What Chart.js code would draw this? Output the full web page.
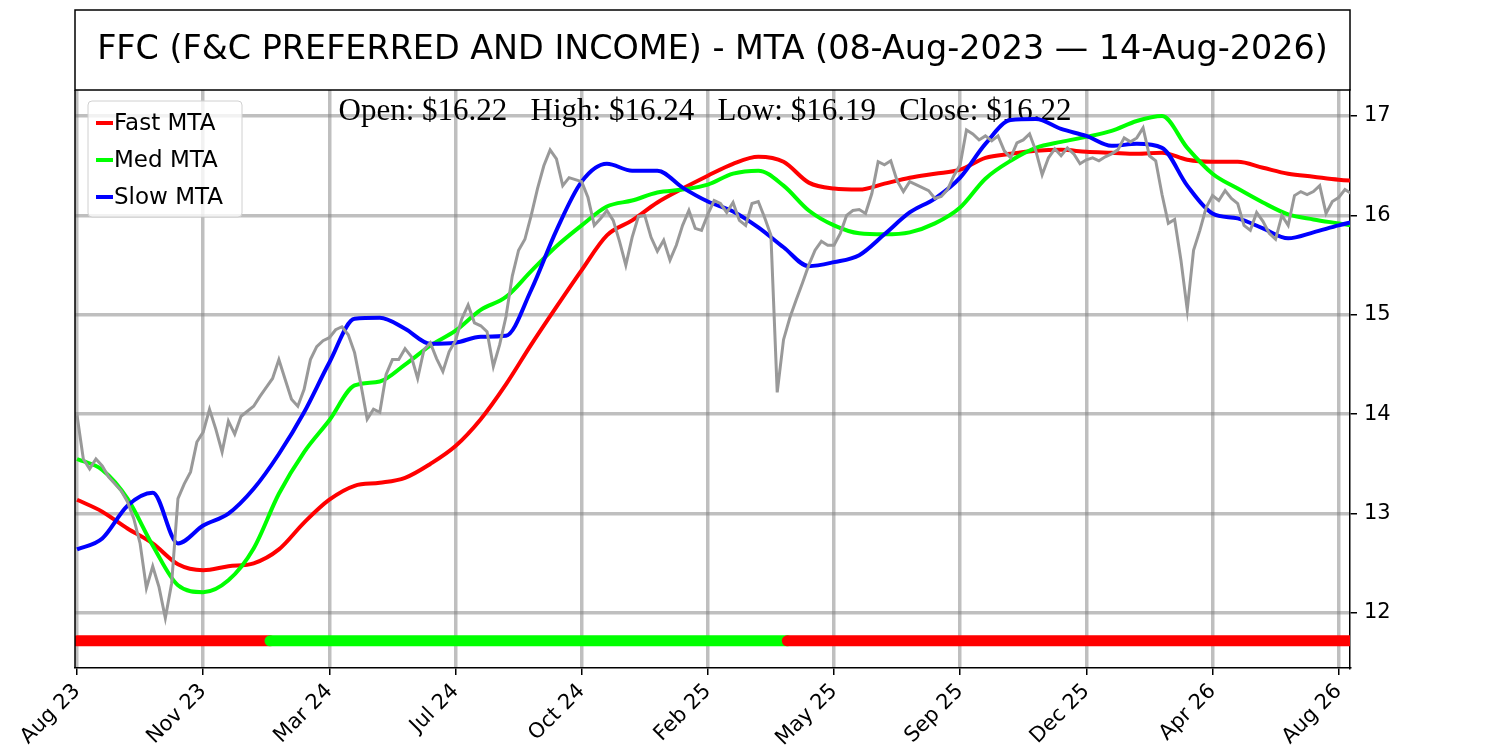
<!DOCTYPE html>
<html>
<head>
<meta charset="utf-8">
<title>FFC MTA</title>
<script src="https://cdn.jsdelivr.net/npm/chart.js@4.4.1/dist/chart.umd.min.js"></script>
<style>
  body { margin: 0; background: #fff; }
  #wrap { width: 1500px; height: 750px; }
</style>
</head>
<body>
<div id="wrap"><canvas id="mtaChart" width="1500" height="750"></canvas></div>
<script>
/* data */
const titleText = 'FFC (F&C PREFERRED AND INCOME) - MTA (08-Aug-2023 \u2014 14-Aug-2026)';
const tickLabels = ['Aug 23', 'Nov 23', 'Mar 24', 'Jul 24', 'Oct 24', 'Feb 25', 'May 25', 'Sep 25', 'Dec 25', 'Apr 26', 'Aug 26'];
const yTicks = [12, 13, 14, 15, 16, 17];

// closes, one every 0.05 of a tick interval
const priceStep = 0.05;
const closes = [
  13.99, 13.55, 13.45, 13.55, 13.48, 13.37, 13.30, 13.23, 13.12, 12.95,
  12.70, 12.25, 12.47, 12.26, 11.95, 12.30, 13.15, 13.30, 13.42, 13.72,
  13.82, 14.05, 13.85, 13.62, 13.93, 13.80, 13.98, 14.03, 14.08, 14.18,
  14.27, 14.36, 14.55, 14.35, 14.15, 14.08, 14.25, 14.55, 14.68, 14.74,
  14.77, 14.85, 14.88, 14.80, 14.62, 14.30, 13.95, 14.05, 14.02, 14.40,
  14.55, 14.55, 14.66, 14.58, 14.36, 14.65, 14.72, 14.56, 14.43, 14.63,
  14.74, 14.96, 15.10, 14.92, 14.89, 14.83, 14.48, 14.70, 14.98, 15.39,
  15.65, 15.76, 16.00, 16.27, 16.50, 16.66, 16.57, 16.30, 16.38, 16.36,
  16.34, 16.18, 15.90, 15.97, 16.05, 15.95, 15.74, 15.50, 15.78, 15.99,
  16.00, 15.78, 15.64, 15.75, 15.55, 15.70, 15.90, 16.05, 15.87, 15.85,
  16.01, 16.15, 16.12, 16.03, 16.13, 15.95, 15.90, 16.12, 16.14, 15.98,
  15.80, 14.22, 14.75, 14.97, 15.15, 15.32, 15.50, 15.65, 15.74, 15.70,
  15.70, 15.82, 16.00, 16.05, 16.06, 16.02, 16.22, 16.54, 16.51, 16.55,
  16.35, 16.24, 16.34, 16.31, 16.28, 16.25, 16.17, 16.19, 16.26, 16.40,
  16.51, 16.86, 16.82, 16.76, 16.80, 16.75, 16.80, 16.65, 16.58, 16.73,
  16.76, 16.82, 16.65, 16.41, 16.58, 16.67, 16.60, 16.68, 16.62, 16.52,
  16.56, 16.58, 16.55, 16.59, 16.62, 16.66, 16.78, 16.74, 16.78, 16.88,
  16.60, 16.55, 16.21, 15.92, 15.96, 15.55, 15.05, 15.65, 15.85, 16.08,
  16.20, 16.15, 16.25, 16.17, 16.12, 15.90, 15.85, 16.03, 15.94, 15.82,
  15.76, 16.00, 15.90, 16.20, 16.24, 16.21, 16.24, 16.30, 16.02, 16.14,
  16.18, 16.26, 16.22
];

// moving trend averages, one every 0.2 of a tick interval
const mtaStep = 0.2;
const fastMta = [
  13.14, 13.02, 12.85, 12.70, 12.49, 12.43, 12.47, 12.50, 12.64, 12.91,
  13.14, 13.28, 13.31, 13.36, 13.50, 13.68, 13.95, 14.30, 14.70, 15.08,
  15.45, 15.80, 15.95, 16.13, 16.27, 16.40, 16.52, 16.59, 16.54, 16.33,
  16.27, 16.26, 16.32, 16.38, 16.42, 16.46, 16.58, 16.62, 16.65, 16.66,
  16.64, 16.63, 16.62, 16.63, 16.56, 16.54, 16.54, 16.48, 16.42, 16.39,
  16.36, 16.34
];
const medMta = [
  13.55, 13.44, 13.15, 12.68, 12.28, 12.21, 12.33, 12.65, 13.20, 13.62,
  13.94, 14.29, 14.33, 14.50, 14.69, 14.84, 15.05, 15.18, 15.44, 15.69,
  15.90, 16.09, 16.15, 16.23, 16.26, 16.31, 16.42, 16.45, 16.30, 16.05,
  15.90, 15.82, 15.81, 15.83, 15.92, 16.08, 16.37, 16.55, 16.68, 16.74,
  16.79, 16.85, 16.95, 17.00, 16.68, 16.42, 16.27, 16.13, 16.01, 15.96,
  15.92, 15.88
];
const slowMta = [
  12.64, 12.75, 13.08, 13.21, 12.70, 12.88, 13.00, 13.25, 13.60, 14.02,
  14.52, 14.96, 14.97, 14.86, 14.71, 14.72, 14.78, 14.79, 15.25, 15.85,
  16.34, 16.52, 16.45, 16.45, 16.28, 16.14, 16.04, 15.88, 15.68, 15.49,
  15.53, 15.60, 15.81, 16.03, 16.17, 16.38, 16.72, 16.96, 16.97, 16.87,
  16.80, 16.70, 16.72, 16.68, 16.30, 16.02, 15.97, 15.87, 15.77, 15.83,
  15.90, 15.96
];

// trend signal band along the bottom
const signalBreaks = [0, 1.53, 5.63, 10.1];
const signalColors = ['#ff0000', '#00ff00', '#ff0000'];
const signalLevel = 11.72;

const lastBar = { Open: 16.22, High: 16.24, Low: 16.19, Close: 16.22 };

/* chart */
function toPoints(values, step) {
  return values.map(function (v, i) {
    return { x: Math.round(i * step * 1000) / 1000, y: v };
  });
}

const gridColor = 'rgba(128,128,128,0.5)';

const datasets = [
  { label: 'Close', data: toPoints(closes, priceStep), borderColor: '#999999', borderWidth: 3, tension: 0, order: 0 },
  { label: 'Fast MTA', data: toPoints(fastMta, mtaStep), borderColor: '#ff0000', borderWidth: 4, cubicInterpolationMode: 'monotone', order: 3 },
  { label: 'Med MTA', data: toPoints(medMta, mtaStep), borderColor: '#00ff00', borderWidth: 4, cubicInterpolationMode: 'monotone', order: 2 },
  { label: 'Slow MTA', data: toPoints(slowMta, mtaStep), borderColor: '#0000ff', borderWidth: 4, cubicInterpolationMode: 'monotone', order: 1 },
];

signalColors.forEach(function (c, s) {
  datasets.push({
    label: 'signal',
    data: [{ x: signalBreaks[s], y: signalLevel }, { x: signalBreaks[s + 1], y: signalLevel }],
    borderColor: c,
    borderWidth: 11,
    borderCapStyle: 'round',
    order: 20 - s,
  });
});

datasets.forEach(function (d) {
  d.pointRadius = 0;
  d.fill = false;
  d.clip = 0;
});

const frame = {
  id: 'frame',
  beforeDatasetsDraw: function (chart) {
    const ctx = chart.ctx;
    const text = Object.keys(lastBar).map(function (k) {
      return k + ': $' + lastBar[k].toFixed(2);
    }).join('   ');
    ctx.save();
    ctx.font = '31px "Liberation Serif"';
    ctx.fillStyle = '#000';
    ctx.textAlign = 'center';
    ctx.textBaseline = 'alphabetic';
    ctx.fillText(text, 705, 120);
    ctx.restore();
  },
  afterDraw: function (chart) {
    const ctx = chart.ctx;
    const a = chart.chartArea;
    ctx.save();
    // title box
    ctx.strokeStyle = '#000';
    ctx.lineWidth = 1.5;
    ctx.strokeRect(a.left, 10, a.right - a.left, a.top - 10);
    ctx.beginPath();
    ctx.moveTo(a.left, a.top);
    ctx.lineTo(a.left, a.bottom);
    ctx.stroke();
    ctx.font = '33.4px "DejaVu Sans"';
    ctx.fillStyle = '#000';
    ctx.textAlign = 'center';
    ctx.textBaseline = 'middle';
    ctx.fillText(titleText, (a.left + a.right) / 2, 50);

    // legend
    ctx.beginPath();
    ctx.roundRect(88, 101, 154, 116, 4);
    ctx.fillStyle = 'rgba(255,255,255,0.8)';
    ctx.fill();
    ctx.strokeStyle = '#d0d0d0';
    ctx.lineWidth = 1;
    ctx.stroke();
    ctx.font = '23px "DejaVu Sans"';
    ctx.textAlign = 'left';
    [1, 2, 3].forEach(function (di, row) {
      const d = chart.data.datasets[di];
      const y = 123 + row * 37;
      ctx.beginPath();
      ctx.moveTo(96, y);
      ctx.lineTo(113, y);
      ctx.strokeStyle = d.borderColor;
      ctx.lineWidth = 4;
      ctx.stroke();
      ctx.fillStyle = '#000';
      ctx.fillText(d.label, 114, y + 1);
    });
    ctx.restore();
  }
};

Chart.defaults.font.family = '"DejaVu Sans"';

new Chart(document.getElementById('mtaChart').getContext('2d'), {
  type: 'line',
  data: { datasets: datasets },
  options: {
    responsive: false,
    animation: false,
    layout: { padding: { left: 75, top: 90, right: 0, bottom: 0 } },
    plugins: { legend: { display: false }, tooltip: { enabled: false } },
    scales: {
      x: {
        type: 'linear',
        min: -0.016,
        max: 10.09,
        afterBuildTicks: function (s) {
          s.ticks = tickLabels.map(function (_, i) { return { value: i }; });
        },
        afterFit: function (s) { s.height = 82; },
        ticks: {
          callback: function (v, i) { return tickLabels[i]; },
          autoSkip: false,
          maxRotation: 45,
          minRotation: 45,
          color: '#000',
          font: { size: 21 },
          padding: 4,
        },
        grid: { color: gridColor, lineWidth: 3.5, tickColor: '#000', tickWidth: 1.5, tickLength: 7 },
        border: { display: true, color: '#000', width: 1.5 },
      },
      y: {
        position: 'right',
        min: 11.447,
        max: 17.262,
        afterBuildTicks: function (s) {
          s.ticks = yTicks.map(function (v) { return { value: v }; });
        },
        afterFit: function (s) { s.width = 150; },
        ticks: { color: '#000', font: { size: 21 }, padding: 7 },
        grid: { color: gridColor, lineWidth: 3.5, tickColor: '#000', tickWidth: 1.5, tickLength: 7 },
        border: { display: true, color: '#000', width: 1.5 },
      },
    },
  },
  plugins: [frame],
});
</script>
</body>
</html>
